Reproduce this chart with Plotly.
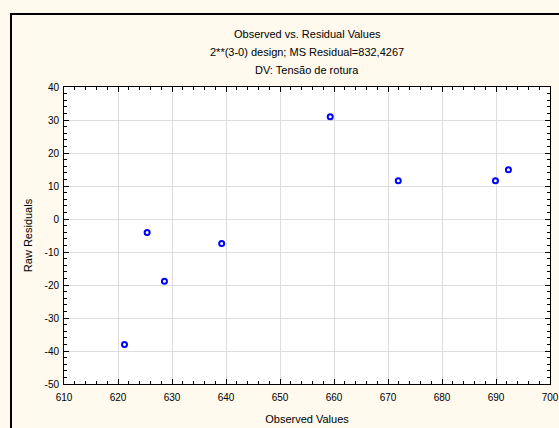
import plotly.graph_objects as go

# Observed values and raw residuals of the 2**(3-0) design
observed = [621.2, 625.4, 628.6, 639.2, 659.3, 671.9, 689.9, 692.3]
residuals = [-38.0, -4.1, -18.9, -7.4, 31.0, 11.6, 11.6, 14.9]

x_ticks = [610, 620, 630, 640, 650, 660, 670, 680, 690, 700]
y_ticks = [-50, -40, -30, -20, -10, 0, 10, 20, 30, 40]
y_tick_text = ["-50", "-40", "-30", "-20", "-10", "0", "10", "20", "30", "40"]

title_lines = [
    "Observed vs. Residual Values",
    "2**(3-0) design; MS Residual=832,4267",
    "DV: Tensão de rotura",
]

W, H = 559, 428
L, R, T, B = 64, 9, 87, 44
plot_h = H - T - B

FONT = "Liberation Sans, Arial, sans-serif"
CREAM = "#FFF9EE"

fig = go.Figure(
    go.Scatter(
        x=observed,
        y=residuals,
        mode="markers",
        marker=dict(symbol="circle-open", size=5, color="#0000FF",
                    line=dict(width=2, color="#0000FF")),
        hoverinfo="x+y",
    )
)

axis_common = dict(
    showline=True,
    linecolor="black",
    linewidth=1,
    mirror="allticks",
    ticks="inside",
    ticklen=5,
    tickwidth=1,
    tickcolor="black",
    showgrid=True,
    gridcolor="#DEDEDE",
    gridwidth=1,
    zeroline=False,
    automargin=False,
    ticklabeloverflow="allow",
    tickfont=dict(family=FONT, size=10, color="black"),
    title_font=dict(family=FONT, size=11, color="black"),
    minor=dict(ticks="inside", ticklen=3, tickcolor="black", showgrid=False),
)

fig.update_xaxes(
    range=[610, 700], tickvals=x_ticks, ticktext=[str(v) for v in x_ticks],
    minor_dtick=2, minor_tick0=610,
    title_text="Observed Values", title_standoff=13, ticklabelstandoff=4,
    **axis_common,
)
fig.update_yaxes(
    range=[-50, 40], tickvals=y_ticks, ticktext=y_tick_text,
    minor_dtick=2, minor_tick0=-50,
    title_text="Raw Residuals", title_standoff=9, ticklabelstandoff=2,
    **axis_common,
)

# Title lines stacked above the plot
centers_px = [34, 52, 70]
for txt, cy in zip(title_lines, centers_px):
    fig.add_annotation(
        text=txt, xref="paper", yref="paper",
        x=0.5, y=(H - B - cy) / plot_h,
        showarrow=False, yanchor="middle", xanchor="center",
        font=dict(family=FONT, size=11, color="black"),
    )

# Outer frame around the chart window
fig.add_shape(
    type="rect", xref="paper", yref="paper",
    x0=(11 - L) / (W - L - R), x1=1.2,
    y0=-0.4, y1=(H - B - 14) / plot_h,
    line=dict(color="black", width=2), fillcolor="rgba(0,0,0,0)",
    layer="below",
)

fig.update_layout(
    width=W, height=H,
    margin=dict(l=L, r=R, t=T, b=B),
    paper_bgcolor=CREAM,
    plot_bgcolor="white",
    showlegend=False,
)

fig.write_html("out.html")
